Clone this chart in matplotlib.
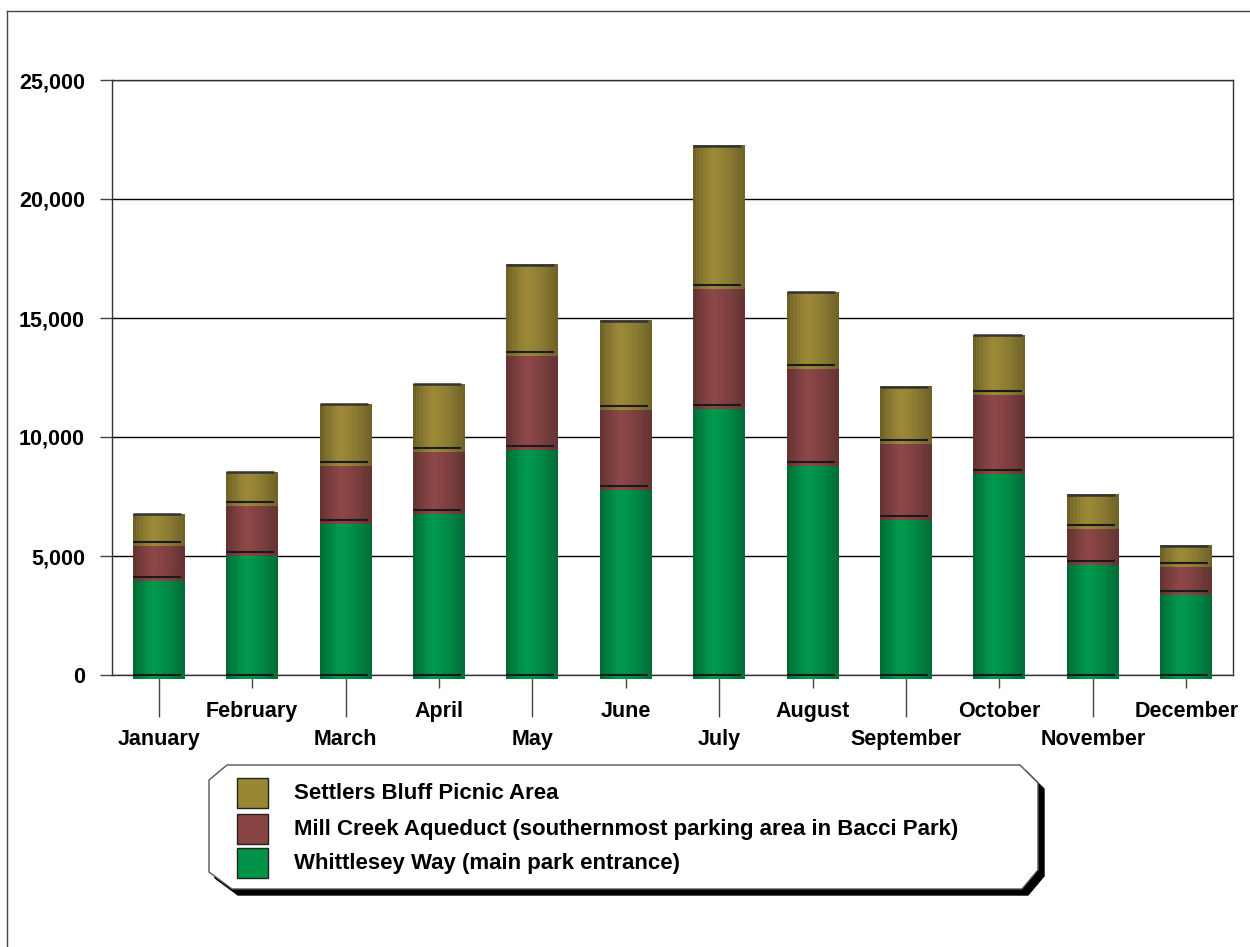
import matplotlib
matplotlib.use("Agg")
import matplotlib.pyplot as plt
import numpy as np
from matplotlib.patches import Polygon, Rectangle
from matplotlib.ticker import FuncFormatter

plt.rcParams['font.family'] = ['Liberation Sans', 'DejaVu Sans']

# —— data —— #
months = ["January", "February", "March", "April", "May", "June",
          "July", "August", "September", "October", "November", "December"]
whittlesey = [4100, 5180, 6530, 6950, 9620, 7940, 11360, 8950, 6680, 8600, 4780, 3530]
mill_creek = [1500, 2100, 2420, 2590, 3940, 3350, 5030, 4090, 3180, 3350, 1510, 1160]
settlers = [1170, 1250, 2420, 2680, 3670, 3570, 5840, 3050, 2230, 2330, 1260, 740]

series = [
    ("Whittlesey Way (main park entrance)", whittlesey, (0.00, 0.60, 0.30)),
    ("Mill Creek Aqueduct (southernmost parking area in Bacci Park)", mill_creek, (0.55, 0.28, 0.28)),
    ("Settlers Bluff Picnic Area", settlers, (0.61, 0.54, 0.22)),
]
legend_colors = {"Whittlesey Way (main park entrance)": "#009348",
                 "Mill Creek Aqueduct (southernmost parking area in Bacci Park)": "#884444",
                 "Settlers Bluff Picnic Area": "#998833"}


def shade(base, n=16):
    # cylinder-ish horizontal shading, banded
    t = (np.arange(n) + 0.5) / n
    f = np.where(t < 0.4, 1 - 0.32 * ((0.4 - t) / 0.4) ** 1.4,
                 1 - 0.30 * ((t - 0.4) / 0.6) ** 1.4)
    return np.clip(np.array(base)[None, :] * f[:, None], 0, 1)[None, :, :]


W, H = 1250, 947
fig = plt.figure(figsize=(12.5, 9.47), dpi=100)
ax = fig.add_axes([112 / W, 1 - 675 / H, (1233 - 112) / W, (675 - 80) / H])

x = np.arange(len(months))
width = 0.556
d = 170  # front face drop (pseudo 3d)

bottom = np.zeros(len(months))
for k, (name, vals, col) in enumerate(series):
    vals = np.array(vals, dtype=float)
    top = bottom + vals
    img = shade(col)
    for i in range(len(months)):
        y0 = bottom[i] - d
        y1 = top[i] if k == len(series) - 1 else top[i] - d
        im = ax.imshow(img, extent=[x[i] - width / 2, x[i] + width / 2, y0, y1],
                       aspect='auto', interpolation='nearest', zorder=3)
        im.set_clip_on(False)
        # back-edge line of the segment bottom
        ax.plot([x[i] - width / 2, x[i] + width / 2 * 0.85], [bottom[i], bottom[i]],
                color="#1a1a1a", lw=1.5, zorder=4, solid_capstyle='butt', clip_on=False)
        if k == len(series) - 1:
            ax.plot([x[i] - width / 2, x[i] + width / 2 * 0.85], [top[i], top[i]],
                    color="#333333", lw=1.8, zorder=4, solid_capstyle='butt')
    bottom = top

ax.set_xlim(-0.5, len(months) - 0.5)
ax.set_ylim(0, 25000)

ax.set_yticks(np.arange(0, 25001, 5000))
ax.yaxis.set_major_formatter(FuncFormatter(lambda v, p: f"{int(v):,}"))
ax.yaxis.grid(True, color="black", lw=1)
ax.set_axisbelow(True)
ax.tick_params(axis='y', length=8.6, width=1, color="#444444", pad=10.8,
               labelsize=15.5)

ax.set_xticks(x[::2], months[::2])
ax.set_xticks(x[1::2], months[1::2], minor=True)
ax.tick_params(axis='x', which='major', length=30, width=1, color="#444444",
               pad=8.6, labelsize=15.5)
ax.tick_params(axis='x', which='minor', length=9.4, width=1, color="#444444",
               pad=9.4, labelsize=15.5)
for lab in ax.get_xticklabels(which='both') + ax.get_yticklabels():
    lab.set_fontweight('bold')

for sp in ax.spines.values():
    sp.set_color("#333333")
    sp.set_linewidth(1)

# —— overlay: frame and legend —— #
ov = fig.add_axes([0, 0, 1, 1], zorder=5)
ov.set_xlim(0, W)
ov.set_ylim(H, 0)
ov.axis('off')
ov.plot([7, 7], [H + 5, 11], color="#444444", lw=1)
ov.plot([7, W + 5], [11, 11], color="#444444", lw=1)

box = np.array([(227, 765), (1020, 765), (1038, 783), (1038, 870), (1022, 889),
                (232, 889), (209, 872), (209, 780)])
ov.add_patch(Polygon(box + 6, closed=True, facecolor="black", edgecolor="black", lw=1))
ov.add_patch(Polygon(box, closed=True, facecolor="white", edgecolor="#555555", lw=1))

rows = [793, 829, 863]
for (name, vals, col), yc in zip(series[::-1], rows):
    ov.add_patch(Rectangle((237, yc - 15), 31, 30, facecolor=legend_colors[name],
                           edgecolor="#222222", lw=1))
    ov.text(294, yc, name, fontsize=16, fontweight='bold', va='center', ha='left')

fig.savefig("out.png", dpi=100)
